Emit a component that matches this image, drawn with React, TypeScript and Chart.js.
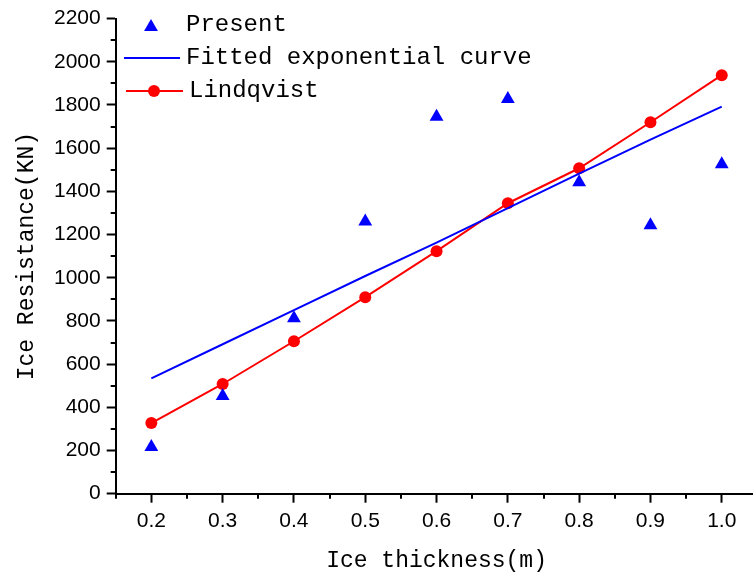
import React, { useEffect, useRef } from "react";
import { Chart, registerables } from "chart.js";

Chart.register(...registerables);

const thickness = [0.2, 0.3, 0.4, 0.5, 0.6, 0.7, 0.8, 0.9, 1.0];
const presentValues = [216, 452, 812, 1261, 1745, 1828, 1442, 1243, 1525];
const fittedValues = [534, 692, 850, 1008, 1163, 1322, 1482, 1640, 1792];
const lindqvistValues = [327, 508, 706, 910, 1123, 1345, 1507, 1720, 1938];

const xMajorTicks = [0.2, 0.3, 0.4, 0.5, 0.6, 0.7, 0.8, 0.9, 1.0];
const xMinorTicks = [0.15, 0.25, 0.35, 0.45, 0.55, 0.65, 0.75, 0.85, 0.95, 1.05];
const yMajorTicks = [0, 200, 400, 600, 800, 1000, 1200, 1400, 1600, 1800, 2000, 2200];
const yMinorTicks = [100, 300, 500, 700, 900, 1100, 1300, 1500, 1700, 1900, 2100];

const legendLabels = ["Present", "Fitted exponential curve", "Lindqvist"];
const xTitle = "Ice thickness(m)";
const yTitle = "Ice Resistance(KN)";

const BLUE = "#0000ff";
const RED = "#ff0000";
const MONO = "'Liberation Mono', 'DejaVu Sans Mono', monospace";
const SANS = "'Liberation Sans', Arial, sans-serif";

const minorTicksPlugin = {
  id: "minorTicks",
  afterDraw(chart: any) {
    const { ctx, chartArea, scales } = chart;
    ctx.save();
    ctx.strokeStyle = "#000";
    ctx.lineWidth = 2;
    ctx.beginPath();
    xMinorTicks.forEach((v) => {
      const px = Math.round(scales.x.getPixelForValue(v));
      ctx.moveTo(px, chartArea.bottom);
      ctx.lineTo(px, chartArea.bottom + 5);
    });
    yMinorTicks.forEach((v) => {
      const py = Math.round(scales.y.getPixelForValue(v));
      ctx.moveTo(chartArea.left, py);
      ctx.lineTo(chartArea.left - 5, py);
    });
    ctx.stroke();
    ctx.restore();
  },
};

const legendPlugin = {
  id: "customLegend",
  afterDraw(chart: any) {
    const { ctx } = chart;
    const rows = [25, 58, 91];
    ctx.save();
    ctx.font = `24px ${MONO}`;
    ctx.fillStyle = "#000";
    ctx.textBaseline = "middle";
    ctx.textAlign = "left";
    const r = 8;
    const tx = 151;
    const ty = rows[0] + 2;
    ctx.fillStyle = BLUE;
    ctx.beginPath();
    for (let i = 0; i < 3; i++) {
      const a = (i * 2 * Math.PI) / 3;
      const x = tx + Math.sin(a) * r;
      const y = ty - Math.cos(a) * r;
      if (i === 0) ctx.moveTo(x, y);
      else ctx.lineTo(x, y);
    }
    ctx.closePath();
    ctx.fill();
    ctx.strokeStyle = BLUE;
    ctx.lineWidth = 2;
    ctx.beginPath();
    ctx.moveTo(124, rows[1]);
    ctx.lineTo(180, rows[1]);
    ctx.stroke();
    ctx.strokeStyle = RED;
    ctx.beginPath();
    ctx.moveTo(126, rows[2]);
    ctx.lineTo(183, rows[2]);
    ctx.stroke();
    ctx.fillStyle = RED;
    ctx.beginPath();
    ctx.arc(154, rows[2], 6, 0, Math.PI * 2);
    ctx.fill();
    ctx.fillStyle = "#000";
    ctx.fillText(legendLabels[0], 186, rows[0]);
    ctx.fillText(legendLabels[1], 186, rows[1]);
    ctx.fillText(legendLabels[2], 189, rows[2]);
    ctx.restore();
  },
};

export default function App() {
  const canvasRef = useRef<HTMLCanvasElement | null>(null);

  useEffect(() => {
    if (!canvasRef.current) return;
    const toPts = (vals: number[]) => thickness.map((x, i) => ({ x, y: vals[i] }));
    const chart = new Chart(canvasRef.current, {
      type: "line",
      data: {
        datasets: [
          {
            label: legendLabels[0],
            data: toPts(presentValues),
            showLine: false,
            pointStyle: "triangle",
            pointRadius: 8,
            pointBackgroundColor: BLUE,
            pointBorderWidth: 0,
            borderColor: BLUE,
            backgroundColor: BLUE,
          },
          {
            label: legendLabels[1],
            data: toPts(fittedValues),
            borderColor: BLUE,
            borderWidth: 2,
            pointRadius: 0,
            fill: false,
          },
          {
            label: legendLabels[2],
            data: toPts(lindqvistValues),
            borderColor: RED,
            borderWidth: 2,
            pointRadius: 6,
            pointStyle: "circle",
            pointBackgroundColor: RED,
            pointBorderWidth: 0,
            fill: false,
          },
        ],
      },
      options: {
        animation: false,
        responsive: false,
        devicePixelRatio: 1,
        events: [],
        layout: { padding: { top: 18, right: 42.6, left: 0, bottom: 0 } },
        plugins: {
          legend: { display: false },
          tooltip: { enabled: false },
          title: { display: false },
        },
        scales: {
          x: {
            type: "linear",
            min: 0.15,
            max: 1.05,
            afterFit: (s: any) => {
              s.height = 85.3;
            },
            afterBuildTicks: (s: any) => {
              s.ticks = xMajorTicks.map((v) => ({ value: v }));
            },
            border: { display: true, color: "#000", width: 2 },
            grid: {
              drawOnChartArea: false,
              drawTicks: true,
              tickLength: 9,
              tickColor: "#000",
              tickWidth: 2,
            },
            ticks: {
              color: "#000",
              font: { family: SANS, size: 21 },
              padding: 6,
              maxRotation: 0,
              autoSkip: false,
              callback: (v: any) => Number(v).toFixed(1),
            },
            title: {
              display: true,
              text: xTitle,
              color: "#000",
              font: { family: MONO, size: 23 },
              padding: { top: 0, bottom: 4 },
            },
          },
          y: {
            type: "linear",
            min: 0,
            max: 2200,
            afterFit: (s: any) => {
              s.width = 115.7;
            },
            afterBuildTicks: (s: any) => {
              s.ticks = yMajorTicks.map((v) => ({ value: v }));
            },
            border: { display: true, color: "#000", width: 2 },
            grid: {
              drawOnChartArea: false,
              drawTicks: true,
              tickLength: 9,
              tickColor: "#000",
              tickWidth: 2,
            },
            ticks: {
              color: "#000",
              font: { family: SANS, size: 21 },
              padding: 6,
              autoSkip: false,
              callback: (v: any) => String(v),
            },
            title: {
              display: true,
              text: yTitle,
              color: "#000",
              font: { family: MONO, size: 23 },
              padding: { top: 13, bottom: 0 },
            },
          },
        },
      },
      plugins: [minorTicksPlugin, legendPlugin],
    } as any);
    return () => chart.destroy();
  }, []);

  return (
    <div
      style={{
        position: "absolute",
        left: 0,
        top: 0,
        width: 753,
        height: 579,
        overflow: "hidden",
        background: "#fff",
      }}
    >
      <canvas ref={canvasRef} width={800} height={579} style={{ width: 800, height: 579, display: "block" }} />
    </div>
  );
}
